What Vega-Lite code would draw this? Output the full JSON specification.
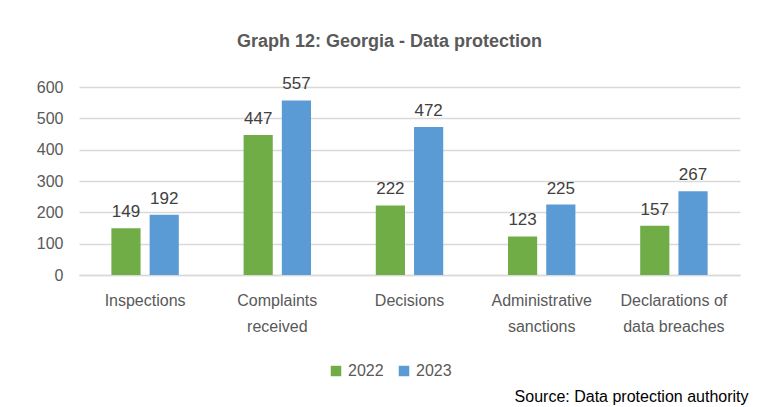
{
  "$schema": "https://vega.github.io/schema/vega-lite/v6.json",
  "autosize": "none",
  "width": 661,
  "height": 188,
  "padding": {"left": 79, "top": 87, "right": 17, "bottom": 132},
  "background": "white",
  "config": {
    "font": "Liberation Sans",
    "view": {"stroke": null},
    "axis": {"labelFont": "Liberation Sans", "titleFont": "Liberation Sans"},
    "legend": {"labelFont": "Liberation Sans"}
  },
  "title": {
    "text": "Graph 12: Georgia - Data protection",
    "font": "Liberation Sans",
    "fontSize": 18,
    "fontWeight": "bold",
    "color": "#595959",
    "anchor": "middle",
    "dx": -20,
    "offset": 24
  },
  "data": {
    "values": [
      {"category": "Inspections", "year": "2022", "value": 149},
      {"category": "Inspections", "year": "2023", "value": 192},
      {"category": "Complaints received", "year": "2022", "value": 447},
      {"category": "Complaints received", "year": "2023", "value": 557},
      {"category": "Decisions", "year": "2022", "value": 222},
      {"category": "Decisions", "year": "2023", "value": 472},
      {"category": "Administrative sanctions", "year": "2022", "value": 123},
      {"category": "Administrative sanctions", "year": "2023", "value": 225},
      {"category": "Declarations of data breaches", "year": "2022", "value": 157},
      {"category": "Declarations of data breaches", "year": "2023", "value": 267}
    ]
  },
  "encoding": {
    "x": {
      "field": "category",
      "type": "nominal",
      "sort": null,
      "scale": {"paddingInner": 0.49, "paddingOuter": 0.245},
      "axis": {
        "labelAngle": 0,
        "labelFontSize": 16,
        "labelColor": "#595959",
        "labelPadding": 17,
        "labelLineHeight": 26,
        "labelBaseline": "top",
        "ticks": false,
        "domainColor": "#D9D9D9",
        "domainWidth": 1.5,
        "labelExpr": "datum.label == 'Complaints received' ? ['Complaints', 'received'] : datum.label == 'Administrative sanctions' ? ['Administrative', 'sanctions'] : datum.label == 'Declarations of data breaches' ? ['Declarations of', 'data breaches'] : datum.label",
        "title": "Source: Data protection authority",
        "titleFontSize": 16,
        "titleFontWeight": "normal",
        "titleColor": "#000000",
        "titleAnchor": "end",
        "titleAlign": "right",
        "titleX": 669,
        "titleY": 129,
        "titleBaseline": "bottom"
      }
    },
    "xOffset": {"field": "year", "type": "nominal", "scale": {"paddingInner": 0.237}},
    "y": {
      "field": "value",
      "type": "quantitative",
      "scale": {"domain": [0, 600]},
      "axis": {
        "values": [0, 100, 200, 300, 400, 500, 600],
        "title": null,
        "domain": false,
        "ticks": false,
        "labelFontSize": 16,
        "labelColor": "#595959",
        "labelPadding": 16,
        "gridColor": "#D9D9D9",
        "gridWidth": 1.3
      }
    },
    "color": {
      "field": "year",
      "type": "nominal",
      "scale": {"domain": ["2022", "2023"], "range": ["#70AD47", "#5B9BD5"]},
      "legend": {
        "title": null,
        "orient": "none",
        "direction": "horizontal",
        "legendX": 249,
        "legendY": 276,
        "symbolType": "square",
        "symbolSize": 110,
        "symbolStrokeWidth": 0,
        "labelFontSize": 16,
        "labelColor": "#595959",
        "columnPadding": 12,
        "labelOffset": 4
      }
    }
  },
  "layer": [
    {"mark": {"type": "bar"}},
    {
      "mark": {"type": "text", "baseline": "bottom", "dy": -7, "fontSize": 17},
      "encoding": {
        "text": {"field": "value", "type": "quantitative"},
        "color": {"value": "#404040"}
      }
    }
  ]
}
